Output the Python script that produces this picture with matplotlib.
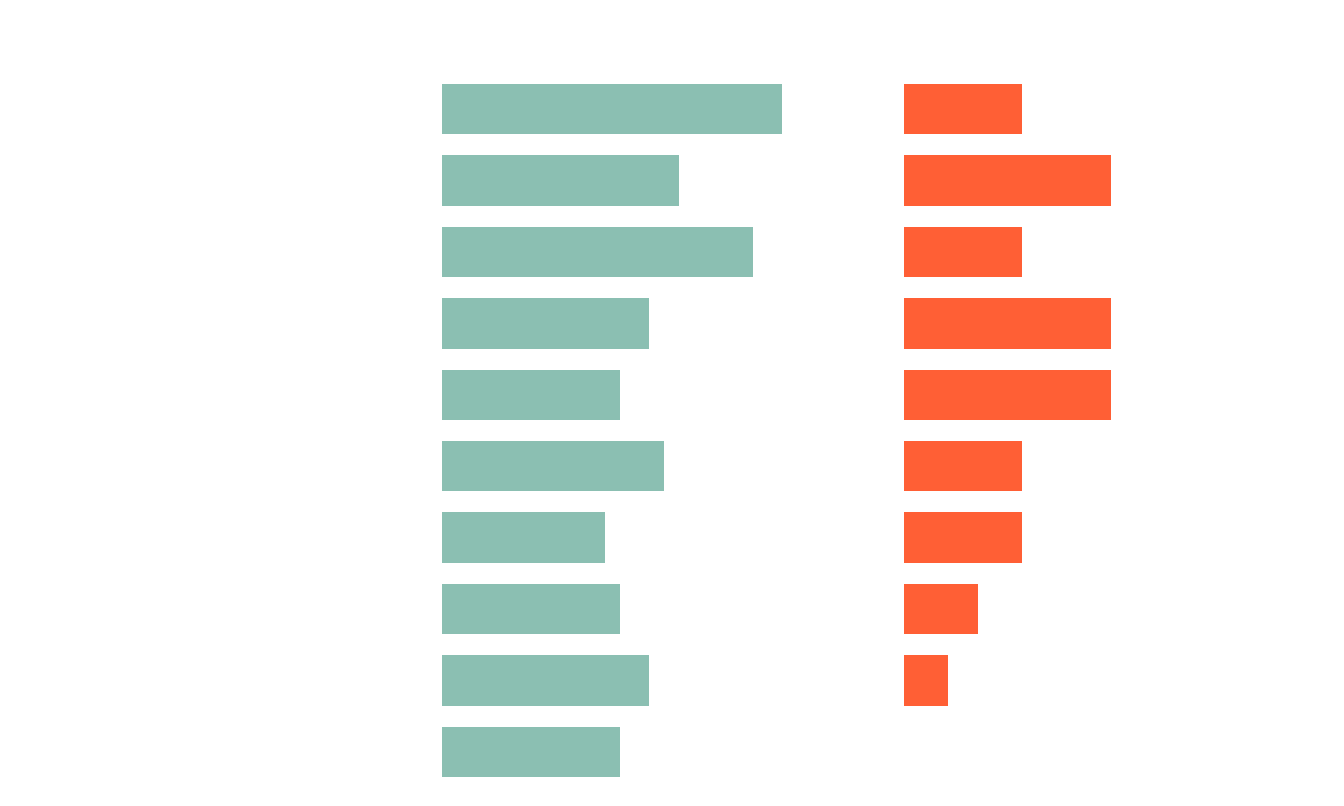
import numpy as np
import matplotlib.pyplot as plt

# values (same scale in both panels)
left_vals  = [23, 16, 21, 14, 12, 15, 11, 12, 14, 12]
right_vals = [8, 14, 8, 14, 14, 8, 8, 5, 3, 0]

TEAL   = "#8BBFB2"
ORANGE = "#FF5F35"

W, H = 1344, 806
fig = plt.figure(figsize=(W / 100, H / 100), dpi=100)
fig.patch.set_facecolor("white")

unit = 14.8          # px per value unit
xmax = 27
row_h = 71.45
top = 109 - row_h / 2
bottom = top + row_h * len(left_vals)


def panel(x0, vals, color):
    ax = fig.add_axes([x0 / W, (H - bottom) / H, xmax * unit / W, (bottom - top) / H])
    y = np.arange(len(vals))
    ax.barh(y, vals, height=0.706, color=color)
    ax.set_xlim(0, xmax)
    ax.set_ylim(len(vals) - 0.5, -0.5)
    ax.axis("off")
    return ax


panel(442, left_vals, TEAL)
panel(904, right_vals, ORANGE)

plt.savefig("out.png", dpi=100, facecolor="white")
plt.close()
